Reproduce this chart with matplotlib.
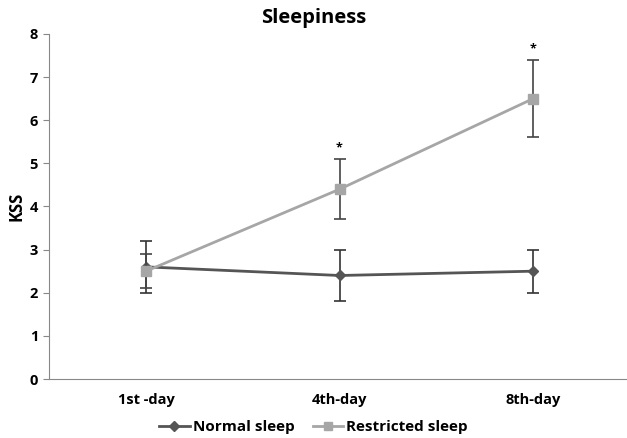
import matplotlib
matplotlib.use("Agg")
import matplotlib.pyplot as plt
from matplotlib.lines import Line2D

days = ["1st -day", "4th-day", "8th-day"]
normal = [2.6, 2.4, 2.5]
normal_err = [0.6, 0.6, 0.5]
restricted = [2.5, 4.4, 6.5]
restricted_err = [0.4, 0.7, 0.9]
star_y = [None, 5.35, 7.65]

plt.rcParams['font.family'] = ['Open Sans', 'DejaVu Sans']
plt.rcParams['font.weight'] = 'bold'

fig = plt.figure(figsize=(6.27, 4.38), dpi=100)
ax = fig.add_axes([0.0785, 0.1347, 0.926, 0.7877])

x = list(range(len(days)))
ax.errorbar(x, normal, yerr=normal_err, color='#555555', marker='D', markersize=5,
            linewidth=2, ecolor='#333333', elinewidth=1.2, capsize=4, capthick=1.2,
            zorder=3)
ax.errorbar(x, restricted, yerr=restricted_err, color='#a6a6a6', marker='s', markersize=7,
            linewidth=2, ecolor='#444444', elinewidth=1.2, capsize=4, capthick=1.2,
            zorder=4)
for xi, s in zip(x, star_y):
    if s is not None:
        ax.text(xi, s, '*', ha='center', va='center', fontsize=9, fontweight='bold')

ax.set_xlim(-0.5, 2.5)
ax.set_ylim(0, 8)
ax.set_yticks(range(0, 9))
ax.set_xticks(x)
ax.set_xticklabels(days)
ax.tick_params(axis='x', length=0, pad=10, labelsize=10.5)
ax.tick_params(axis='y', length=4, color='#888888', labelsize=10.5, pad=4)
for lbl in ax.get_xticklabels() + ax.get_yticklabels():
    lbl.set_fontweight('bold')
ax.spines['top'].set_visible(False)
ax.spines['right'].set_visible(False)
ax.spines['left'].set_color('#888888')
ax.spines['bottom'].set_color('#888888')
ax.set_ylabel('KSS', fontsize=12, fontweight='bold')
ax.yaxis.set_label_coords(-0.04, 0.5)
fig.text(0.5, 0.958, 'Sleepiness', ha='center', va='center', fontsize=14.5, fontweight='bold')

handles = [
    Line2D([], [], color='#555555', marker='D', markersize=5, linewidth=2),
    Line2D([], [], color='#a6a6a6', marker='s', markersize=6, linewidth=2),
]
fig.legend(handles, ['Normal sleep', 'Restricted sleep'], loc='center',
           bbox_to_anchor=(0.5, 0.025), ncol=2, frameon=False,
           handlelength=2.0, handletextpad=0.2, columnspacing=1.2,
           prop={'weight': 'bold', 'size': 11})

fig.savefig('out.png', dpi=100)
